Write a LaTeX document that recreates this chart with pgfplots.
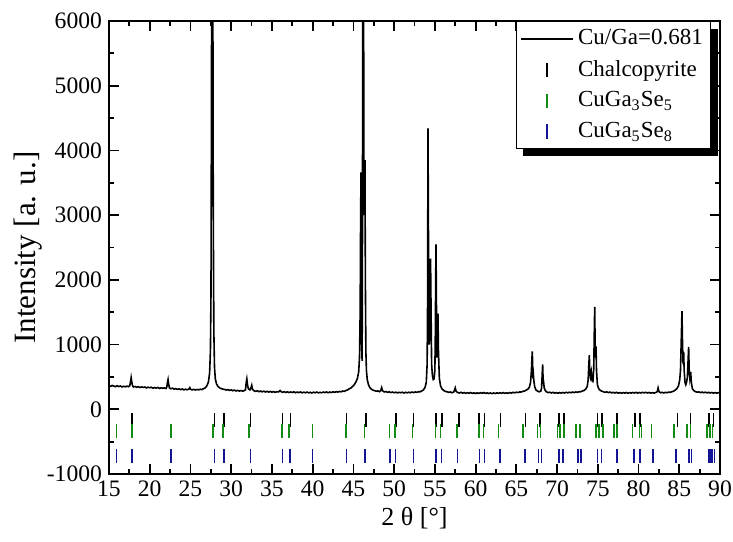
\documentclass[border=0pt]{standalone}
\usepackage{fontspec}
\setmainfont{Liberation Serif}
\usepackage{pgfplots}
\pgfplotsset{compat=1.18}
\usetikzlibrary{shadows}
\makeatletter
\tikzset{no preactions/.code={\let\tikz@preactions\pgfutil@empty}}
\makeatother
\definecolor{refgreen}{RGB}{20,140,20}
\definecolor{refblue}{RGB}{20,20,150}
\begin{document}
\begin{tikzpicture}
\useasboundingbox (-54.5pt,-33.5pt) rectangle (312pt,237pt);
\begin{axis}[
  scale only axis,
  width=305.5pt, height=226.5pt,
  xmin=15, xmax=90, ymin=-1000, ymax=6000,
  xtick={15,20,...,90}, ytick={-1000,0,...,6000},
  minor x tick num=1, minor y tick num=1,
  tick align=inside, xtick pos=both, ytick pos=both,
  xticklabel pos=lower, yticklabel pos=left,
  major tick length=5pt, minor tick length=2.5pt,
  every tick/.style={black, line width=0.9pt},
  axis line style={line width=1.4pt},
  /pgf/number format/assume math mode=true,
  /pgf/number format/1000 sep={},
  tick label style={font=\fontsize{11.8}{14}\selectfont},
  xlabel={2 θ [°]}, ylabel={Intensity [a. u.]},
  ylabel style={font=\fontsize{15.5}{18}\selectfont, at={(axis description cs:-0.097,0.5)}, anchor=south, rotate=0},
  xlabel style={font=\fontsize{13}{16}\selectfont, at={(axis description cs:0.5,-0.057)}, anchor=north},
  legend image code/.code={\draw[no preactions,mark repeat=2,mark phase=2,#1] plot coordinates {(0cm,0cm) (0.46cm,0cm) (0.92cm,0cm)};},
  legend style={at={(rel axis cs:0.986,1)}, anchor=north east, draw=black, line width=0.6pt, fill=white,
    font=\fontsize{11.5}{14}\selectfont, row sep=2.2pt, inner sep=2pt,
    drop shadow={shadow xshift=3.5pt, shadow yshift=-3.5pt, fill=black, opacity=1}},
  legend cell align=left,
]
\addplot[black, line width=0.8pt] table {
15.0 362
15.2 355
15.4 368
15.6 358
15.8 350
16.0 364
16.2 352
16.4 360
16.6 345
16.8 356
17.0 348
17.2 358
17.4 350
17.55 365
17.65 430
17.72 490
17.8 420
17.9 360
18.0 345
18.2 352
18.4 340
18.6 350
18.8 336
19.0 346
19.2 338
19.4 344
19.6 330
19.8 342
20.0 334
20.2 340
20.4 326
20.6 336
20.8 328
21.0 338
21.2 322
21.4 332
21.6 325
21.8 330
22.0 322
22.1 345
22.18 420
22.25 460
22.32 390
22.42 330
22.6 318
22.8 326
23.0 312
23.2 320
23.4 308
23.6 316
23.8 304
24.0 314
24.2 300
24.4 310
24.6 302
24.8 312
24.92 335
25.0 310
25.2 300
25.4 308
25.6 298
25.8 306
26.0 300
26.2 310
26.4 304
26.6 318
26.8 330
27.0 360
27.2 420
27.35 560
27.45 900
27.52 1800
27.58 5000
27.63 9000
27.68 9500
27.74 7000
27.8 3000
27.87 1200
27.95 650
28.05 470
28.2 390
28.4 350
28.6 330
28.8 318
29.0 312
29.2 306
29.4 298
29.6 304
29.8 292
30.0 300
30.2 288
30.4 296
30.6 284
30.8 292
31.0 282
31.2 290
31.4 280
31.6 288
31.75 300
31.85 420
31.92 470
32.0 380
32.1 320
32.3 300
32.45 340
32.52 370
32.6 310
32.8 286
33.0 278
33.2 286
33.4 272
33.6 282
33.8 270
34.0 280
34.2 268
34.4 278
34.6 266
34.8 276
35.0 264
35.2 274
35.4 262
35.6 272
35.8 268
36.0 290
36.1 275
36.3 262
36.5 272
36.7 260
36.9 270
37.1 258
37.3 268
37.5 260
37.7 270
37.9 256
38.1 266
38.3 258
38.5 268
38.7 254
38.9 264
39.1 256
39.3 266
39.5 254
39.7 262
39.9 252
40.1 264
40.3 256
40.5 266
40.7 254
40.9 262
41.1 256
41.3 266
41.5 258
41.7 268
41.9 256
42.1 266
42.3 260
42.5 270
42.7 262
42.9 272
43.1 266
43.3 276
43.5 270
43.7 282
43.9 278
44.1 292
44.3 300
44.5 318
44.7 330
44.9 352
45.1 380
45.3 420
45.5 480
45.65 580
45.75 800
45.83 1500
45.88 2800
45.93 3660
45.98 2200
46.03 900
46.07 750
46.11 2500
46.15 7000
46.2 9000
46.25 6500
46.3 3000
46.36 3200
46.42 3850
46.47 2000
46.53 900
46.6 600
46.7 460
46.85 380
47.0 340
47.2 310
47.4 296
47.6 288
47.8 280
48.0 284
48.2 272
48.35 290
48.47 335
48.58 285
48.8 268
49.0 274
49.2 262
49.4 270
49.6 258
49.8 266
50.0 256
50.2 264
50.4 254
50.6 262
50.8 256
51.0 264
51.2 252
51.4 262
51.6 254
51.8 264
52.0 256
52.2 266
52.4 258
52.6 268
52.8 262
53.0 272
53.2 270
53.4 284
53.6 300
53.8 340
53.95 420
54.05 700
54.1 1500
54.13 3000
54.16 4340
54.2 3000
54.3 1000
54.42 1200
54.47 2330
54.52 1700
54.6 700
54.7 520
54.8 460
54.9 470
55.0 600
55.06 1200
55.1 2000
55.14 2550
55.2 1500
55.26 800
55.33 1000
55.38 1480
55.44 900
55.55 480
55.7 360
55.9 310
56.1 290
56.3 276
56.5 270
56.7 262
56.9 268
57.1 256
57.3 266
57.42 300
57.5 330
57.6 280
57.8 258
58.0 252
58.2 262
58.4 250
58.6 258
58.8 246
59.0 256
59.2 248
59.4 258
59.6 246
59.8 254
60.0 244
60.2 254
60.4 246
60.6 256
60.8 248
61.0 258
61.2 246
61.4 254
61.6 244
61.8 252
62.0 242
62.2 252
62.4 244
62.6 254
62.8 246
63.0 256
63.2 248
63.4 258
63.6 246
63.8 254
64.0 248
64.2 258
64.4 250
64.6 262
64.8 254
65.0 264
65.2 258
65.4 268
65.6 266
65.8 278
66.0 282
66.2 296
66.4 310
66.6 340
66.75 420
66.85 600
66.92 800
66.96 896
67.0 700
67.05 480
67.1 525
67.15 440
67.25 350
67.4 300
67.6 282
67.8 270
68.0 280
68.1 330
68.18 560
68.23 695
68.28 480
68.35 420
68.42 330
68.55 290
68.7 270
68.9 258
69.1 264
69.3 252
69.5 262
69.7 250
69.9 258
70.1 248
70.3 258
70.5 250
70.7 260
70.9 252
71.1 262
71.3 254
71.5 264
71.7 256
71.9 266
72.1 258
72.3 268
72.5 262
72.7 272
72.9 270
73.1 282
73.3 290
73.5 310
73.7 350
73.82 460
73.9 700
73.96 835
74.02 560
74.1 500
74.2 577
74.3 440
74.4 430
74.5 620
74.57 1200
74.62 1581
74.68 900
74.74 800
74.78 973
74.84 600
74.95 380
75.1 320
75.3 292
75.5 280
75.7 270
75.9 262
76.1 270
76.3 258
76.5 266
76.7 254
76.9 262
77.1 252
77.3 262
77.5 250
77.7 258
77.9 248
78.1 258
78.3 250
78.5 260
78.7 248
78.9 258
79.1 250
79.3 260
79.5 252
79.7 262
79.9 250
80.1 260
80.3 252
80.5 262
80.7 254
80.9 262
81.1 252
81.3 260
81.5 250
81.7 258
81.9 250
82.1 258
82.3 272
82.4 330
82.5 275
82.7 256
82.9 262
83.1 252
83.3 262
83.5 256
83.7 266
83.9 262
84.1 272
84.3 280
84.5 296
84.7 320
84.9 360
85.05 450
85.15 600
85.25 1100
85.33 1515
85.4 1000
85.47 700
85.54 886
85.6 600
85.7 420
85.8 380
85.9 420
86.0 500
86.08 750
86.15 963
86.22 600
86.3 480
86.4 577
86.48 420
86.6 320
86.8 286
87.0 272
87.2 264
87.4 270
87.6 258
87.8 266
88.0 256
88.2 264
88.4 254
88.6 262
88.8 252
89.0 260
89.2 250
89.4 258
89.6 250
89.8 256
90.0 252
};
\addlegendentry{Cu/Ga=0.681}
\addplot[black, only marks, mark=|, mark size=3.4pt, mark options={line width=0.8pt}] coordinates {
(17.86,-163) (27.93,-163) (29.12,-163) (32.35,-163) (36.3,-163) (37.3,-163)
(44.17,-163) (46.55,-163) (50.23,-163) (52.36,-163) (55.14,-163) (55.87,-163)
(57.96,-163) (60.45,-163) (61.07,-163) (63.08,-163) (66.14,-163) (67.9,-163)
(70.27,-163) (70.85,-163) (74.94,-163) (75.55,-163) (77.32,-163) (79.56,-163)
(80.18,-163) (84.76,-163) (86.4,-163) (88.65,-163) (89.18,-163)
};
\addlegendentry{Chalcopyrite}
\addplot[refgreen, only marks, mark=|, mark size=3.4pt, mark options={line width=0.8pt}] coordinates {
(15.94,-335) (17.86,-335) (22.6,-335) (27.8,-335) (29.03,-335) (32.2,-335)
(36.2,-335) (37.1,-335) (39.96,-335) (44.09,-335) (46.34,-335) (49.41,-335)
(50.11,-335) (52.23,-335) (55.06,-335) (55.71,-335) (57.68,-335) (60.45,-335)
(60.95,-335) (62.79,-335) (65.85,-335) (67.62,-335) (67.99,-335) (70.03,-335)
(70.36,-335) (70.85,-335) (72.33,-335) (72.8,-335) (74.77,-335) (75.18,-335)
(75.67,-335) (77.02,-335) (77.39,-335) (79.28,-335) (80.1,-335) (80.34,-335)
(81.61,-335) (84.35,-335) (85.98,-335) (86.4,-335) (88.44,-335) (88.77,-335)
(89.1,-335)
};
\addlegendentry{CuGa\textsubscript{3}Se\textsubscript{5}}
\addplot[refblue, only marks, mark=|, mark size=3.6pt, mark options={line width=0.8pt}] coordinates {
(15.94,-725) (17.86,-725) (22.6,-725) (27.93,-725) (29.12,-725) (32.35,-725)
(36.3,-725) (37.2,-725) (39.96,-725) (44.17,-725) (46.4,-725) (49.5,-725)
(50.15,-725) (52.36,-725) (55.14,-725) (55.82,-725) (57.8,-725) (60.5,-725)
(61.07,-725) (63.0,-725) (66.06,-725) (67.7,-725) (68.11,-725) (70.27,-725)
(70.76,-725) (72.6,-725) (72.93,-725) (74.94,-725) (75.47,-725) (77.32,-725)
(79.44,-725) (80.18,-725) (81.81,-725) (84.6,-725) (86.23,-725) (86.52,-725)
(88.57,-725) (88.8,-725) (89.0,-725) (89.3,-725)
};
\addlegendentry{CuGa\textsubscript{5}Se\textsubscript{8}}
\end{axis}
\end{tikzpicture}
\end{document}
